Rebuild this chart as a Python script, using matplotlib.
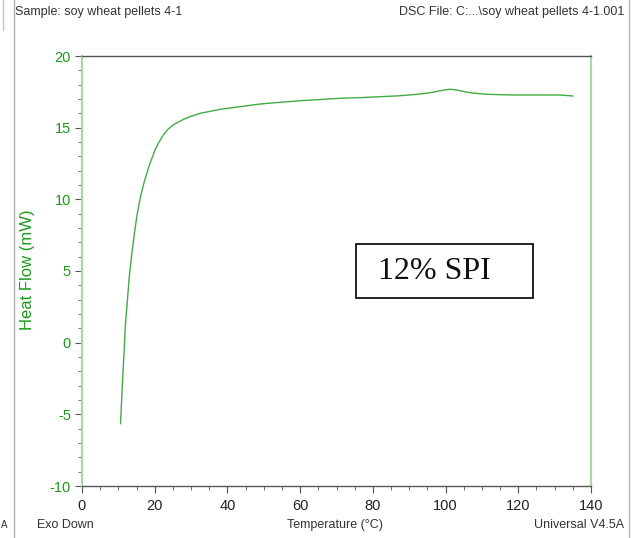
"""DSC heat flow trace for soy wheat pellets 4-1 (12% SPI)."""

import matplotlib
matplotlib.use("Agg")
import matplotlib.pyplot as plt
from matplotlib.lines import Line2D
from matplotlib.patches import Rectangle
from matplotlib.ticker import MultipleLocator

plt.rcParams["axes.unicode_minus"] = False

# Heat flow trace, temperature in degC and heat flow in mW
temperature = [10.6, 10.9, 11.2, 11.55, 11.9, 12.5, 13.0, 13.7, 14.4, 15.2, 16.1, 17.1,
               18.4, 20.1, 21.2, 22.4, 23.7, 25.1, 27.9, 29.7, 32.5, 38.0, 43.0, 49.0,
               55.0, 60.0, 66.0, 71.0, 77.0, 82.0, 87.0, 91.0, 94.0, 96.5, 99.0, 101.2,
               103.0, 105.0, 106.7, 109.0, 111.4, 115.0, 118.5, 125.0, 131.5, 133.5, 135.0]
heat_flow = [-5.65, -4.0, -2.4, -0.75, 1.1, 3.0, 4.6, 6.2, 7.6, 9.0, 10.2, 11.2,
             12.3, 13.45, 14.0, 14.5, 14.9, 15.2, 15.58, 15.77, 16.0, 16.28, 16.45, 16.65,
             16.78, 16.88, 16.97, 17.05, 17.1, 17.16, 17.22, 17.3, 17.38, 17.47, 17.6, 17.68,
             17.63, 17.52, 17.44, 17.38, 17.33, 17.3, 17.28, 17.28, 17.28, 17.24, 17.21]

x_ticks = [0, 20, 40, 60, 80, 100, 120, 140]
y_ticks = [-10, -5, 0, 5, 10, 15, 20]

GREEN = "#1a9a1a"
LIGHT_GREEN = "#a8d8a8"
DARK = "#555555"
SANS = ["Liberation Sans", "DejaVu Sans"]

fig = plt.figure(figsize=(6.32, 5.38), dpi=100)
ax = fig.add_axes([82 / 632, 52 / 538, 509 / 632, 430 / 538])

ax.plot(temperature, heat_flow, color="#2ea22e", linewidth=1.0, alpha=0.9)

ax.set_xlim(0, 140)
ax.set_ylim(-10, 20)
ax.set_xticks(x_ticks)
ax.set_yticks(y_ticks)
ax.xaxis.set_minor_locator(MultipleLocator(5))
ax.yaxis.set_minor_locator(MultipleLocator(1))

ax.spines["top"].set_color(DARK)
ax.spines["bottom"].set_color(DARK)
ax.spines["left"].set_color(LIGHT_GREEN)
ax.spines["right"].set_color(LIGHT_GREEN)
for side in ("left", "right"):
    ax.spines[side].set_linewidth(1.6)
for side in ("top", "bottom"):
    ax.spines[side].set_linewidth(1.0)

ax.tick_params(axis="y", which="major", direction="out", length=5, color=DARK,
               labelcolor=GREEN, labelsize=10.5, pad=3)
ax.tick_params(axis="y", which="minor", direction="out", length=3, color=DARK)
ax.tick_params(axis="x", which="major", direction="out", length=5, color=DARK,
               labelcolor="#222222", labelsize=10.5, pad=4)
ax.tick_params(axis="x", which="minor", direction="out", length=3, color=DARK)
for lbl in ax.get_xticklabels() + ax.get_yticklabels():
    lbl.set_family(SANS)

ax.set_ylabel("Heat Flow (mW)", color=GREEN, fontsize=12, family=SANS)
ax.yaxis.set_label_coords(-0.092, 0.502)

# Sample annotation box
ax.add_patch(Rectangle((75.4, 3.12), 48.6, 3.76, facecolor="white", edgecolor="#111111",
                       linewidth=1.3, zorder=3))
ax.text(81.4, 4.95, "12% SPI", ha="left", va="center", fontsize=23,
        family=["Liberation Serif", "DejaVu Serif"], color="#111111", zorder=4)

# Header and footer texts
fig.text(15 / 632, 1 - 12 / 538, "Sample: soy wheat pellets 4-1", ha="left", va="center",
         fontsize=9, family=SANS, color="#333333")
fig.text(624 / 632, 1 - 12 / 538, "DSC File: C:...\\soy wheat pellets 4-1.001", ha="right",
         va="center", fontsize=9, family=SANS, color="#333333")
fig.text(37 / 632, 1 - 525 / 538, "Exo Down", ha="left", va="center",
         fontsize=9, family=SANS, color="#333333")
fig.text(335 / 632, 1 - 525 / 538, "Temperature (\u00b0C)", ha="center", va="center",
         fontsize=9, family=SANS, color="#333333")
fig.text(624 / 632, 1 - 525 / 538, "Universal V4.5A", ha="right", va="center",
         fontsize=9, family=SANS, color="#333333")
fig.text(1 / 632, 1 - 525 / 538, "A", ha="left", va="center",
         fontsize=7, family=SANS, color="#333333")

# Page frame lines
for xp in (13.5, 628.5):
    fig.add_artist(Line2D([xp / 632, xp / 632], [0, 1], transform=fig.transFigure,
                          color="#b0b0b0", linewidth=1.0))
fig.add_artist(Line2D([2.5 / 632, 2.5 / 632], [1 - 30 / 538, 1], transform=fig.transFigure,
                      color="#c8c8c8", linewidth=1.0))

fig.savefig("out.png", dpi=100)
